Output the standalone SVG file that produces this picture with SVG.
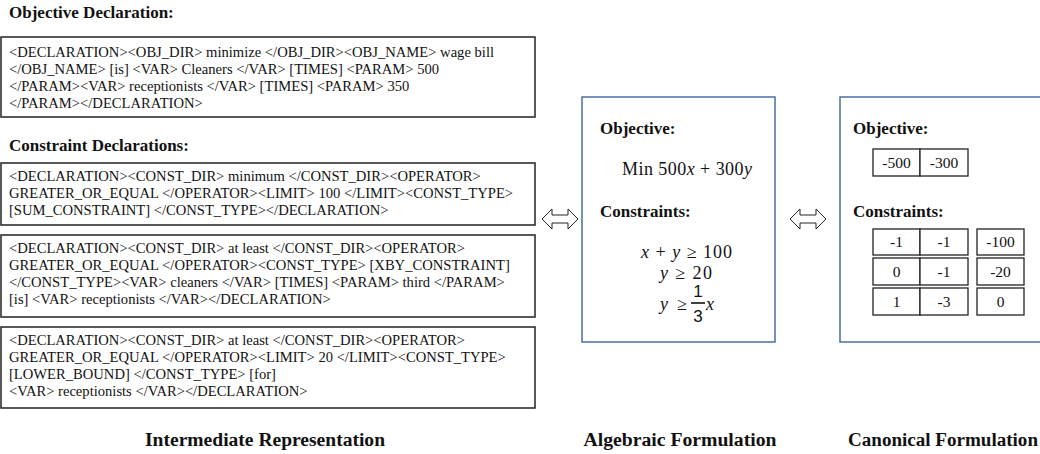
<svg xmlns="http://www.w3.org/2000/svg" width="1040" height="454" viewBox="0 0 1040 454">
<style>
.t{font-family:"Liberation Serif","Times New Roman",serif;font-size:14.6px;fill:#111}
.h{font-family:"Liberation Serif","Times New Roman",serif;font-size:17px;font-weight:bold;fill:#111}
.cap{font-family:"Liberation Serif","Times New Roman",serif;font-size:18px;font-weight:bold;fill:#111;text-anchor:middle}
.m{font-family:"Liberation Serif","Cambria Math",serif;font-size:18px;fill:#111;text-anchor:middle}
.f{font-family:"Liberation Sans",Arial,sans-serif;font-size:17px;fill:#111;text-anchor:middle}
.i{font-style:italic}
.box{fill:#fff;stroke:#222;stroke-width:1.5}
.panel{fill:#fff;stroke:#4a6fa5;stroke-width:1.5}
.cell{fill:#fff;stroke:#222;stroke-width:1.3}
.c{font-family:"Liberation Serif","Times New Roman",serif;font-size:15.5px;fill:#111;text-anchor:middle}
.arr{fill:#fff;stroke:#222;stroke-width:1}
</style>
<rect width="1040" height="454" fill="#fff"/>

<g id="intermediate">
<text class="h" x="9" y="18">Objective Declaration:</text>
<g id="obj-decl">
<rect class="box" x="1" y="37" width="534" height="80"/>
<text class="t" x="9" y="57">&lt;DECLARATION&gt;&lt;OBJ_DIR&gt; minimize &lt;/OBJ_DIR&gt;&lt;OBJ_NAME&gt; wage bill</text>
<text class="t" x="9" y="74">&lt;/OBJ_NAME&gt; [is]  &lt;VAR&gt; Cleaners &lt;/VAR&gt; [TIMES] &lt;PARAM&gt; 500</text>
<text class="t" x="9" y="91">&lt;/PARAM&gt;&lt;VAR&gt; receptionists &lt;/VAR&gt; [TIMES] &lt;PARAM&gt; 350</text>
<text class="t" x="9" y="108">&lt;/PARAM&gt;&lt;/DECLARATION&gt;</text>
</g>
<text class="h" x="9" y="151">Constraint Declarations:</text>
<g id="const1">
<rect class="box" x="1" y="163" width="534" height="62"/>
<text class="t" x="9" y="181">&lt;DECLARATION&gt;&lt;CONST_DIR&gt; minimum &lt;/CONST_DIR&gt;&lt;OPERATOR&gt;</text>
<text class="t" x="9" y="198">GREATER_OR_EQUAL &lt;/OPERATOR&gt;&lt;LIMIT&gt; 100 &lt;/LIMIT&gt;&lt;CONST_TYPE&gt;</text>
<text class="t" x="9" y="215">[SUM_CONSTRAINT] &lt;/CONST_TYPE&gt;&lt;/DECLARATION&gt;</text>
</g>
<g id="const2">
<rect class="box" x="1" y="235" width="534" height="82"/>
<text class="t" x="9" y="253">&lt;DECLARATION&gt;&lt;CONST_DIR&gt; at least &lt;/CONST_DIR&gt;&lt;OPERATOR&gt;</text>
<text class="t" x="9" y="270">GREATER_OR_EQUAL &lt;/OPERATOR&gt;&lt;CONST_TYPE&gt; [XBY_CONSTRAINT]</text>
<text class="t" x="9" y="287">&lt;/CONST_TYPE&gt;&lt;VAR&gt; cleaners &lt;/VAR&gt; [TIMES] &lt;PARAM&gt; third &lt;/PARAM&gt;</text>
<text class="t" x="9" y="304">[is] &lt;VAR&gt; receptionists &lt;/VAR&gt;&lt;/DECLARATION&gt;</text>
</g>
<g id="const3">
<rect class="box" x="1" y="327" width="534" height="81"/>
<text class="t" x="9" y="345">&lt;DECLARATION&gt;&lt;CONST_DIR&gt; at least &lt;/CONST_DIR&gt;&lt;OPERATOR&gt;</text>
<text class="t" x="9" y="362">GREATER_OR_EQUAL &lt;/OPERATOR&gt;&lt;LIMIT&gt; 20 &lt;/LIMIT&gt;&lt;CONST_TYPE&gt;</text>
<text class="t" x="9" y="379">[LOWER_BOUND] &lt;/CONST_TYPE&gt; [for]</text>
<text class="t" x="9" y="396">&lt;VAR&gt; receptionists &lt;/VAR&gt;&lt;/DECLARATION&gt;</text>
</g>
<text class="cap" x="265" y="446" textLength="240" lengthAdjust="spacingAndGlyphs">Intermediate Representation</text>
</g>

<g id="connectors">
<polygon class="arr" points="542,219 552,209 552,215 568,215 568,209 578,219 568,229 568,223 552,223 552,229"/>
<polygon class="arr" points="790,219 800,209 800,215 816,215 816,209 826,219 816,229 816,223 800,223 800,229"/>
</g>

<g id="algebraic">
<rect class="panel" x="582" y="97" width="193" height="245"/>
<text class="h" x="600" y="134">Objective:</text>
<text class="m" x="687" y="175" textLength="130" lengthAdjust="spacing">Min 500<tspan class="i">x</tspan> + 300<tspan class="i">y</tspan></text>
<text class="h" x="600" y="217">Constraints:</text>
<text class="m" x="686.5" y="258" textLength="91" lengthAdjust="spacing"><tspan class="i">x</tspan> + <tspan class="i">y</tspan> ≥ 100</text>
<text class="m" x="686" y="279" textLength="52" lengthAdjust="spacing"><tspan class="i">y</tspan> ≥ 20</text>
<text class="m" x="660" y="310" style="text-anchor:start" textLength="27" lengthAdjust="spacing"><tspan class="i">y</tspan> ≥</text>
<text class="f" x="698" y="297">1</text>
<line x1="691" y1="303" x2="705" y2="303" stroke="#111" stroke-width="1.6"/>
<text class="f" x="698" y="322">3</text>
<text class="m i" x="706" y="310" style="text-anchor:start">x</text>
<text class="cap" x="680" y="446" textLength="193" lengthAdjust="spacingAndGlyphs">Algebraic Formulation</text>
</g>

<g id="canonical">
<rect class="panel" x="840" y="97" width="220" height="245"/>
<text class="h" x="853" y="134">Objective:</text>
<rect class="cell" x="873" y="149" width="47" height="27"/>
<rect class="cell" x="920" y="149" width="48" height="27"/>
<text class="c" x="896.5" y="168">-500</text>
<text class="c" x="944" y="168">-300</text>
<text class="h" x="853" y="217">Constraints:</text>
<rect class="cell" x="873" y="229" width="47" height="26"/>
<rect class="cell" x="920" y="229" width="48" height="26"/>
<rect class="cell" x="977" y="229" width="47" height="26"/>
<rect class="cell" x="873" y="258" width="47" height="27"/>
<rect class="cell" x="920" y="258" width="48" height="27"/>
<rect class="cell" x="977" y="258" width="47" height="27"/>
<rect class="cell" x="873" y="288" width="47" height="27"/>
<rect class="cell" x="920" y="288" width="48" height="27"/>
<rect class="cell" x="977" y="288" width="47" height="27"/>
<text class="c" x="896.5" y="247">-1</text>
<text class="c" x="944" y="247">-1</text>
<text class="c" x="1000.5" y="247">-100</text>
<text class="c" x="896.5" y="277">0</text>
<text class="c" x="944" y="277">-1</text>
<text class="c" x="1000.5" y="277">-20</text>
<text class="c" x="896.5" y="307">1</text>
<text class="c" x="944" y="307">-3</text>
<text class="c" x="1000.5" y="307">0</text>
<text class="cap" x="943" y="446" textLength="190" lengthAdjust="spacingAndGlyphs">Canonical Formulation</text>
</g>
</svg>
